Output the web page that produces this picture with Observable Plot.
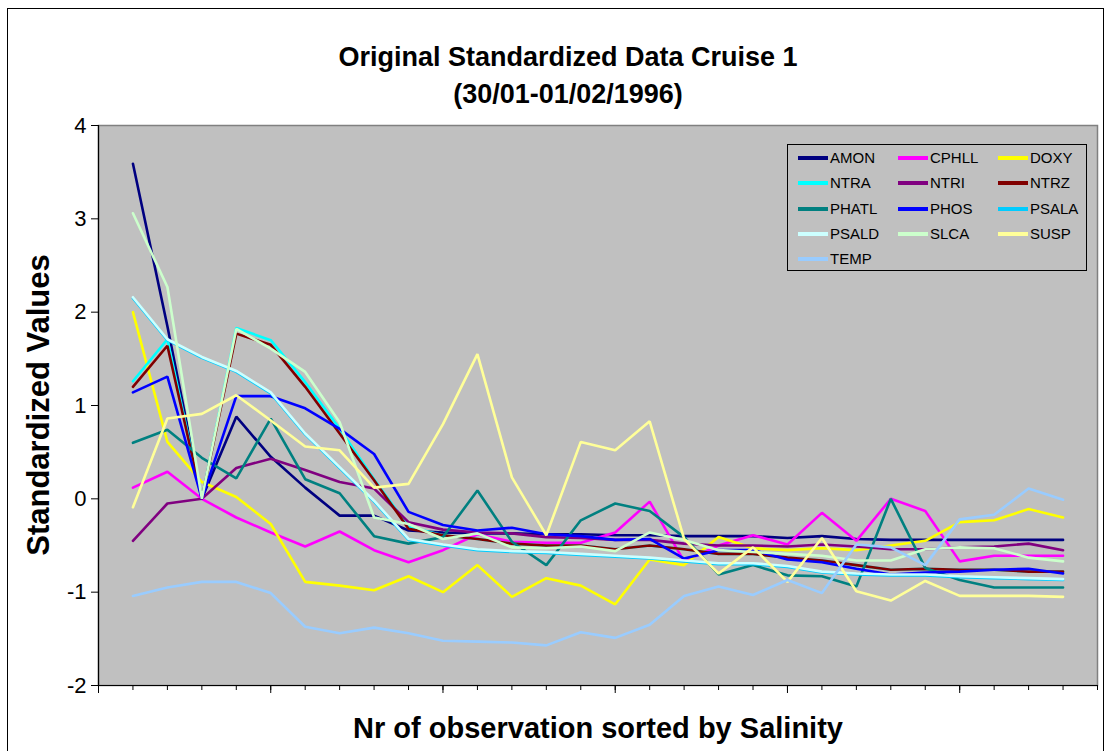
<!DOCTYPE html>
<html>
<head>
<meta charset="utf-8">
<script src="https://cdn.jsdelivr.net/npm/d3@7"></script>
<script src="https://cdn.jsdelivr.net/npm/@observablehq/plot@0.6"></script>
<style>
  html, body { margin: 0; padding: 0; background: #fff; }
  #wrap { position: relative; width: 1113px; height: 751px; overflow: hidden; background: #fff;
          font-family: "Liberation Sans", Arial, sans-serif; color: #000; }
  #frame { position: absolute; left: 7px; top: 8px; width: 1097px; height: 800px; border: 1.5px solid #000; box-sizing: border-box; }
  #title { position: absolute; left: 0; top: 39px; width: 1136px; text-align: center; font-weight: bold;
           font-size: 27px; line-height: 37px; }
  #ytitle { position: absolute; left: 38px; top: 405px; transform: translate(-50%, -50%) rotate(-90deg);
            white-space: nowrap; font-weight: bold; font-size: 31px; line-height: 31px; }
  #xtitle { position: absolute; left: 0; width: 1196px; top: 709px; text-align: center; font-weight: bold;
            font-size: 29px; line-height: 38px; white-space: nowrap; }
  #chart { position: absolute; left: 0; top: 0; }
  #legend { position: absolute; left: 787px; top: 144px; width: 300px; height: 127px; box-sizing: border-box;
            border: 1px solid #000; background: #c0c0c0; }
  .item { position: absolute; height: 20px; font-size: 15px; line-height: 20px; white-space: nowrap; }
  .swatch { position: absolute; left: 0; top: 8px; width: 30px; height: 4px; }
  .lab { position: absolute; left: 32px; top: 0; }
</style>
</head>
<body>
<div id="wrap">
  <div id="frame"></div>
  <div id="chart"></div>
  <div id="title">Original Standardized Data Cruise 1<br>(30/01-01/02/1996)</div>
  <div id="ytitle">Standardized Values</div>
  <div id="xtitle">Nr of observation sorted by Salinity</div>
  <div id="legend"></div>
</div>
<script>
// observation numbers (sorted by salinity)
const obs = d3.range(1, 29);

const seriesNames = ["AMON","CPHLL","DOXY","NTRA","NTRI","NTRZ","PHATL","PHOS","PSALA","PSALD","SLCA","SUSP","TEMP"];
const seriesColors = ["#000080","#ff00ff","#ffff00","#00ffff","#800080","#800000","#008080","#0000ff","#00ccff","#ccffff","#ccffcc","#ffff99","#99ccff"];

const AMON  = [3.59,1.85,0,0.88,0.45,0.12,-0.18,-0.18,-0.34,-0.36,-0.37,-0.37,-0.38,-0.38,-0.39,-0.39,-0.40,-0.40,-0.40,-0.42,-0.40,-0.43,-0.44,-0.44,-0.44,-0.44,-0.44,-0.44];
const CPHLL = [0.12,0.29,0,-0.20,-0.36,-0.51,-0.35,-0.55,-0.68,-0.55,-0.38,-0.46,-0.47,-0.47,-0.36,-0.03,-0.67,-0.50,-0.39,-0.49,-0.15,-0.45,0.0,-0.13,-0.67,-0.61,-0.61,-0.61];
const DOXY  = [2.0,0.61,0.18,0.02,-0.27,-0.89,-0.93,-0.98,-0.83,-1.0,-0.71,-1.05,-0.85,-0.93,-1.13,-0.65,-0.71,-0.41,-0.53,-0.55,-0.53,-0.55,-0.50,-0.45,-0.25,-0.23,-0.11,-0.20];
const NTRA  = [1.26,1.71,0,1.83,1.70,1.25,0.75,0.21,-0.30,-0.39,-0.43,-0.48,-0.50,-0.50,-0.54,-0.50,-0.54,-0.59,-0.59,-0.63,-0.66,-0.71,-0.76,-0.75,-0.76,-0.76,-0.78,-0.78];
const NTRI  = [-0.45,-0.05,0,0.33,0.43,0.31,0.18,0.11,-0.25,-0.33,-0.36,-0.37,-0.41,-0.42,-0.44,-0.44,-0.48,-0.50,-0.50,-0.51,-0.49,-0.51,-0.54,-0.54,-0.52,-0.51,-0.48,-0.55];
const NTRZ  = [1.20,1.64,0,1.77,1.65,1.20,0.70,0.20,-0.32,-0.39,-0.43,-0.48,-0.50,-0.50,-0.54,-0.50,-0.54,-0.59,-0.59,-0.63,-0.66,-0.71,-0.76,-0.75,-0.76,-0.76,-0.78,-0.78];
const PHATL = [0.60,0.74,0.44,0.22,0.86,0.21,0.06,-0.40,-0.48,-0.41,0.09,-0.46,-0.71,-0.23,-0.05,-0.13,-0.41,-0.81,-0.71,-0.82,-0.83,-0.94,0.0,-0.74,-0.87,-0.95,-0.95,-0.95];
const PHOS  = [1.14,1.31,0,1.10,1.10,0.97,0.75,0.48,-0.14,-0.28,-0.34,-0.31,-0.38,-0.40,-0.44,-0.43,-0.64,-0.55,-0.55,-0.65,-0.68,-0.75,-0.81,-0.79,-0.78,-0.76,-0.75,-0.80];
const PSALA = [2.15,1.70,1.51,1.36,1.13,0.69,0.33,-0.03,-0.44,-0.50,-0.55,-0.57,-0.58,-0.60,-0.62,-0.64,-0.67,-0.70,-0.70,-0.73,-0.79,-0.81,-0.82,-0.82,-0.84,-0.85,-0.86,-0.87];
const PSALD = [2.16,1.71,1.52,1.37,1.14,0.70,0.34,-0.02,-0.43,-0.49,-0.54,-0.56,-0.57,-0.59,-0.61,-0.63,-0.66,-0.69,-0.69,-0.72,-0.78,-0.80,-0.81,-0.81,-0.83,-0.84,-0.85,-0.86];
const SLCA  = [3.06,2.27,0,1.82,1.61,1.36,0.82,-0.20,-0.27,-0.43,-0.37,-0.52,-0.53,-0.51,-0.56,-0.36,-0.44,-0.55,-0.57,-0.59,-0.61,-0.66,-0.66,-0.54,-0.52,-0.53,-0.63,-0.67];
const SUSP  = [-0.09,0.86,0.91,1.11,0.84,0.56,0.52,0.12,0.16,0.80,1.55,0.23,-0.39,0.61,0.52,0.83,-0.43,-0.80,-0.52,-0.89,-0.42,-0.99,-1.09,-0.88,-1.04,-1.04,-1.04,-1.05];
const TEMP  = [-1.04,-0.95,-0.89,-0.89,-1.01,-1.37,-1.44,-1.38,-1.44,-1.52,-1.53,-1.54,-1.57,-1.43,-1.49,-1.35,-1.04,-0.94,-1.03,-0.87,-1.01,-0.49,-0.52,-0.71,-0.22,-0.17,0.11,-0.01];

const seriesValues = [AMON,CPHLL,DOXY,NTRA,NTRI,NTRZ,PHATL,PHOS,PSALA,PSALD,SLCA,SUSP,TEMP];

const yTicks = [-2,-1,0,1,2,3,4];
const xTicks = d3.range(0, 30);
const xMajor = xTicks.filter(t => t % 5 === 0);

const rows = seriesNames.flatMap((s, i) => obs.map((k, j) => ({s, k, v: seriesValues[i][j]})));

const lineMarks = seriesNames.map((s, i) =>
  Plot.line(rows.filter(d => d.s === s), {x: "k", y: "v", stroke: seriesColors[i], strokeWidth: 2.6, strokeLinejoin: "miter"})
);

const chart = Plot.plot({
  width: 1113,
  height: 751,
  marginLeft: 98,
  marginRight: 16,
  marginTop: 125,
  marginBottom: 66,
  style: {background: "transparent", color: "#000", fontFamily: "'Liberation Sans', Arial, sans-serif", fontSize: "22px"},
  x: {domain: [0, 29], axis: null},
  y: {domain: [-2, 4], axis: null},
  marks: [
    Plot.frame({fill: "#c0c0c0", stroke: "#808080", strokeWidth: 1.5}),
    ...lineMarks,
    Plot.ruleX([0], {stroke: "#000", strokeWidth: 1.2}),
    Plot.ruleY([-2], {stroke: "#000", strokeWidth: 1.2}),
    Plot.axisY({ticks: yTicks, tickSize: 7, tickPadding: 5, fontSize: 22, stroke: "#000", label: null, tickFormat: d => String(d)}),
    Plot.axisX({ticks: xTicks, tickSize: 5, tickFormat: () => "", label: null, stroke: "#000"}),
    Plot.axisX({ticks: xMajor, tickSize: 8, tickFormat: () => "", label: null, stroke: "#000"})
  ]
});
document.getElementById("chart").appendChild(chart);

// legend built from the series arrays
const legend = document.getElementById("legend");
seriesNames.forEach((s, i) => {
  const col = i % 3, row = Math.floor(i / 3);
  const item = document.createElement("div");
  item.className = "item";
  item.style.left = (10 + col * 100) + "px";
  item.style.top = (3 + row * 25.3) + "px";
  const sw = document.createElement("div");
  sw.className = "swatch";
  sw.style.background = seriesColors[i];
  const lab = document.createElement("div");
  lab.className = "lab";
  lab.textContent = s;
  item.appendChild(sw);
  item.appendChild(lab);
  legend.appendChild(item);
});
</script>
</body>
</html>
